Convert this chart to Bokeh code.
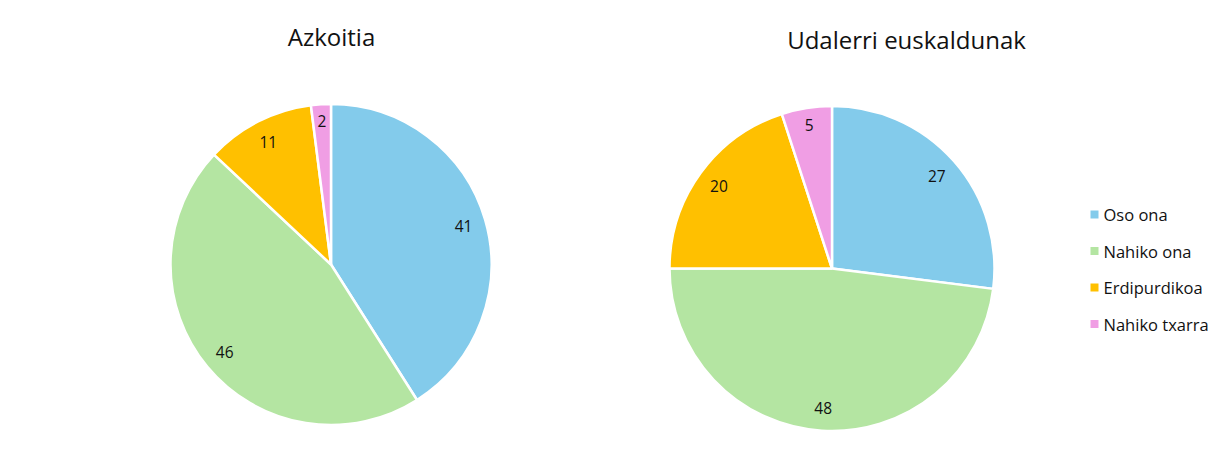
import numpy as np
from bokeh.plotting import figure
from bokeh.models import Range1d, ColumnDataSource
from bokeh.core.properties import value
from bokeh.embed import file_html
from bokeh.resources import INLINE

categories = ["Oso ona", "Nahiko ona", "Erdipurdikoa", "Nahiko txarra"]
colors = ["#83CBEB", "#B4E5A2", "#FFC000", "#F09EE4"]
azkoitia = [41, 46, 11, 2]
udalerri = [27, 48, 20, 5]
titles = ["Azkoitia", "Udalerri euskaldunak"]

W, H = 1213, 452
p = figure(width=W, height=H, output_backend="svg", toolbar_location=None,
           x_range=Range1d(0, W), y_range=Range1d(468 - H, 468),
           min_border=0)
p.axis.visible = False
p.grid.visible = False
p.outline_line_color = None
p.background_fill_color = "white"

FONT = value("Open Sans")

def pie(vals, cx, cy, r, title, tx, ty):
    vals = np.array(vals, dtype=float)
    frac = vals / vals.sum()
    cum_end = np.cumsum(frac)
    cum_start = cum_end - frac
    start = np.pi / 2 - 2 * np.pi * cum_end
    end = np.pi / 2 - 2 * np.pi * cum_start
    src = ColumnDataSource(dict(x=[cx] * len(vals), y=[cy] * len(vals),
                                start=start, end=end, color=colors))
    p.wedge(x="x", y="y", radius=r, start_angle="start", end_angle="end",
            fill_color="color", line_color="white", line_width=2.5, source=src)
    mid = np.pi / 2 - 2 * np.pi * (cum_start + frac / 2)
    rr = np.where(frac < 0.06, 0.895, 0.86) * r
    lsrc = ColumnDataSource(dict(x=cx + rr * np.cos(mid), y=cy + rr * np.sin(mid),
                                 t=[str(int(v)) for v in vals]))
    p.text(x="x", y="y", text="t", source=lsrc, text_align="center",
           text_baseline="middle", text_font=FONT, text_font_size="15.5px",
           text_color="#111111")
    p.text(x=[tx], y=[468 - ty], text=[title], text_align="center",
           text_baseline="middle", text_font=FONT, text_font_size="24px",
           text_color="#111111")

pie(azkoitia, 330.5, 468 - 264, 160.5, titles[0], 331, 36)
pie(udalerri, 831.5, 468 - 268, 162.5, titles[1], 906, 39)

# legend
idx = np.arange(len(categories))
ly = 468 - (214 + 36.5 * idx)
p.scatter(x=[1094] * len(categories), y=ly, marker="square", size=8,
          fill_color=colors, line_color=None)
p.text(x=[1103] * len(categories), y=ly, text=categories, text_align="left",
       text_baseline="middle", text_font=FONT, text_font_size="16.5px",
       text_color="#111111")

open("out.html", "w").write(file_html(p, INLINE))
